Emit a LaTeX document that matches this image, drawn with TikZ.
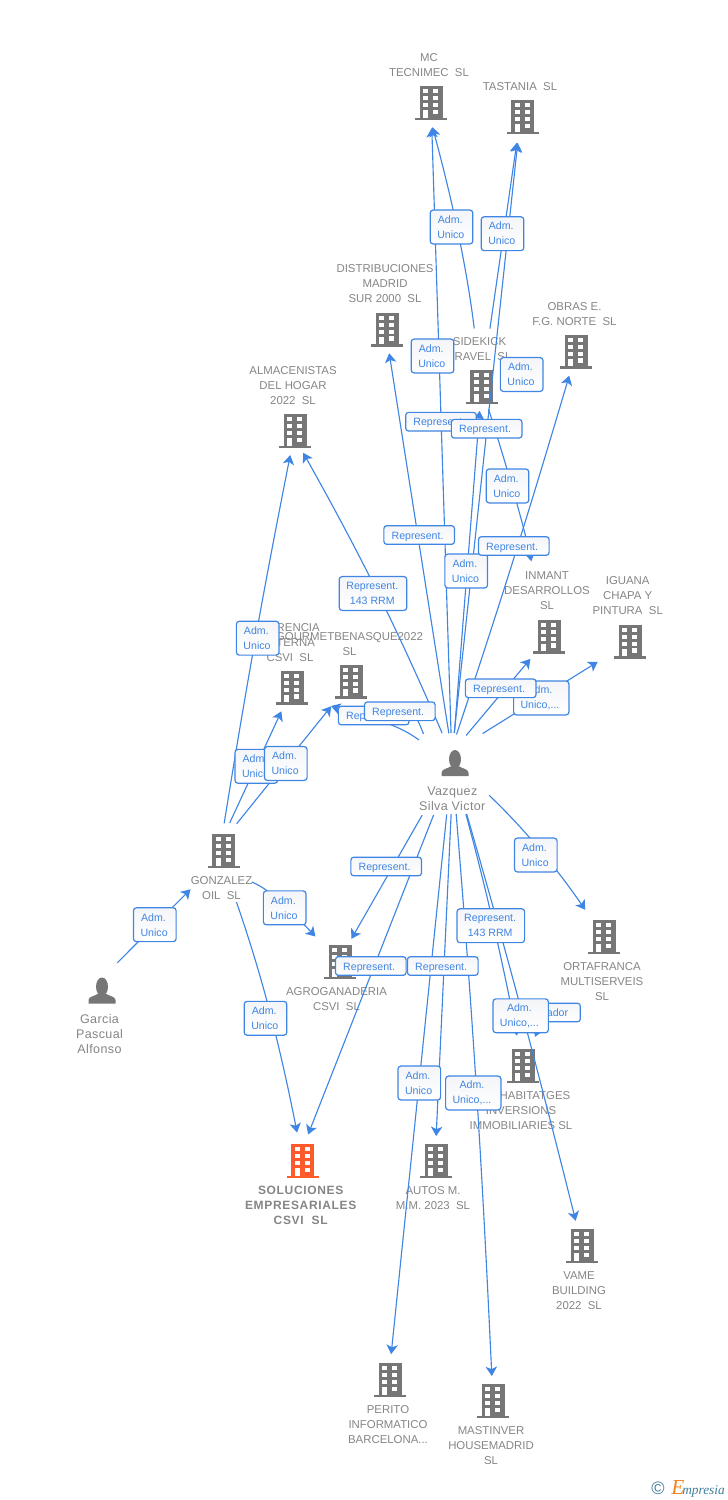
\documentclass[tikz,border=0pt]{standalone}
\usepackage{fontspec}
\setmainfont{Liberation Sans}
\newfontfamily\wmfont{Liberation Serif}
\usetikzlibrary{arrows.meta}
\definecolor{ico}{HTML}{767676}
\definecolor{mainico}{HTML}{FF5A2B}
\definecolor{labgray}{HTML}{858585}
\definecolor{lnkc}{HTML}{3F85E3}
\definecolor{boxtop}{HTML}{F4F5F8}
\definecolor{wmteal}{HTML}{3F7D9C}
\definecolor{wmorange}{HTML}{F58220}
\newcommand{\dn}[1]{\raisebox{-1.1pt}[\height][\depth]{#1}}
\newcommand{\tAU}{Adm.\kern2pt\\Unico\kern1pt}
\newcommand{\tAE}{Adm.\kern2pt\\Unico,...\kern2pt}
\newcommand{\tRE}{\dn{Represent.}\kern2.5pt}
\newcommand{\tRM}{Represent.\kern1pt\\143 RRM\kern1pt}
\tikzset{
  x=0.75pt,y=-0.75pt,
  pics/bld/.style={code={
    \fill[#1] (-11.5,-17) rectangle (11.5,14.5);
    \fill[#1] (-16,14.5) rectangle (16,17);
    \fill[white] (-8,-14) rectangle (-3,-10);
    \fill[white] (2,-14) rectangle (7,-10);
    \fill[white] (-8,-7) rectangle (-3,-3);
    \fill[white] (2,-7) rectangle (7,-3);
    \fill[white] (-8,0) rectangle (-3,4);
    \fill[white] (2,0) rectangle (7,4);
    \fill[white] (-8,7) rectangle (-3,14.5);
    \fill[white] (2,6.5) rectangle (7,11);
  }},
  pics/bld/.default=ico,
  pics/man/.style={code={
    \fill[ico] (0,-3.8) ellipse (6 and 9.2);
    \fill[ico] (-13.5,13) -- (-13.5,9.5) .. controls (-13.5,6) and (-7,5.5) .. (-3.5,3)
      -- (3.5,3) .. controls (7,5.5) and (13.5,6) .. (13.5,9.5) -- (13.5,13) -- cycle;
  }},
  hub/.style={circle,minimum size=18pt,inner sep=0pt},
  lab/.style={font=\fontsize{8.55}{11.25}\selectfont,text=labgray,align=center,inner sep=0pt,yshift=-0.7pt},
  perlab/.style={font=\fontsize{9.4}{11.25}\selectfont\addfontfeature{LetterSpace=3},text=labgray,align=center,inner sep=0pt,yshift=-0.7pt},
  mainlab/.style={font=\fontsize{9}{11.25}\selectfont\bfseries\addfontfeature{LetterSpace=5.5},text=labgray,align=center,inner sep=0pt},
  lnk/.style={draw=lnkc,line width=0.85pt,-{Stealth[length=7pt,width=8.5pt,inset=1.8pt]}},
  plain/.style={draw=lnkc,line width=0.85pt},
  sa/.style={shorten <=#1*0.75pt},
  sb/.style={shorten >=#1*0.75pt},
  tag/.style={draw=lnkc,line width=0.9pt,rounded corners=2.2pt,top color=boxtop,bottom color=white,
    text=lnkc,inner sep=0pt,align=center,font=\fontsize{7.95}{11.25}\selectfont},
  trep/.style={tag,minimum width=53pt,minimum height=14pt},
  tau/.style={tag,minimum width=32pt,minimum height=25.4pt},
  tae/.style={tag,minimum width=41.5pt,minimum height=25.4pt},
  trm/.style={tag,minimum width=50.7pt,minimum height=25.4pt},
}
\begin{document}
\begin{tikzpicture}
\useasboundingbox (0,0) rectangle (728,1500);
% --- entity anchors
\node[hub] (vz) at (455,763) {};
\node[hub] (ga) at (102,990.5) {};
\node[hub] (mc) at (431,103) {};
\node[hub] (ta) at (522.5,117) {};
\node[hub] (di) at (387,329.5) {};
\node[hub] (si) at (481.5,387) {};
\node[hub] (ob) at (576.3,351.7) {};
\node[hub] (al) at (295,431) {};
\node[hub] (nm) at (549,636.7) {};
\node[hub] (ig) at (630,641.7) {};
\node[hub] (gu) at (351,681.7) {};
\node[hub] (ge) at (292.3,687.7) {};
\node[hub] (go) at (223.7,851) {};
\node[hub] (ag) at (340,962.3) {};
\node[hub] (so) at (302.7,1161) {};
\node[hub] (au) at (436,1161) {};
\node[hub] (ha) at (523,1066) {};
\node[hub] (or) at (604,937) {};
\node[hub] (va) at (582,1246) {};
\node[hub] (pe) at (390,1380) {};
\node[hub] (ms) at (493,1401) {};
% --- icons
\pic at (vz.center) {man};
\pic at (ga.center) {man};
\foreach \n in {mc,ta,di,si,ob,al,nm,ig,gu,ge,go,ag,au,ha,or,va,pe,ms} {\pic at (\n.center) {bld};}
\pic at (so.center) {bld=mainico};
% --- captions
\node[lab] (mct) at (429,64.5) {MC\\TECNIMEC\ \ SL};
\node[lab] (tat) at (520,86) {TASTANIA\ \ SL};
\node[lab] (dit) at (385,283) {DISTRIBUCIONES\\MADRID\\SUR 2000\ \ SL};
\node[lab] (sit) at (479.5,348.5) {SIDEKICK\\TRAVEL\ \ SL};
\node[lab] (obt) at (574.5,313.5) {OBRAS E.\\F.G. NORTE\ \ SL};
\node[lab] (alt) at (293,385) {ALMACENISTAS\\DEL HOGAR\\2022\ \ SL};
\node[lab] (nmt) at (547,590) {INMANT\\DESARROLLOS\\SL};
\node[lab] (igt) at (627.7,595) {IGUANA\\CHAPA Y\\PINTURA\ \ SL};
\node[lab] (get) at (290,642) {GERENCIA\\INTERNA\\CSVI\ \ SL};
\node[lab] (gut) at (349.5,643.5) {GOURMETBENASQUE2022\\SL};
\node[lab] (got) at (221.5,887.5) {GONZALEZ\\OIL\ \ SL};
\node[lab] (agt) at (336.5,998.5) {AGROGANADERIA\\CSVI\ \ SL};
\node[mainlab] (sot) at (300.7,1205) {SOLUCIONES\\EMPRESARIALES\\CSVI\ \ SL};
\node[lab] (aut) at (433,1197.5) {AUTOS M.\\M.M. 2023\ \ SL};
\node[lab] (hat) at (521,1110) {\hspace*{21pt}HABITATGES\\INVERSIONS\\IMMOBILIARIES SL};
\node[lab] (ort) at (602,981) {ORTAFRANCA\\MULTISERVEIS\\SL};
\node[lab] (vat) at (579,1290) {VAME\\BUILDING\\2022\ \ SL};
\node[lab] (pet) at (388,1424) {PERITO\\INFORMATICO\\BARCELONA...};
\node[lab] (mst) at (491,1445) {MASTINVER\\HOUSEMADRID\\SL};
\node[perlab] (vzt) at (452.3,798) {Vazquez\\Silva Victor};
\node[perlab] (gat) at (99.5,1033) {Garcia\\Pascual\\Alfonso};
% --- free ends
\coordinate (gw) at (331,706);
\coordinate (vw) at (419,740);
\coordinate (vx) at (423.5,734);
% --- connectors
\draw[lnk,sa=30,sb=25] ([shift={(-3,0)}]vz.center) -- (mc.center);
\draw[lnk,sa=59,sb=25] (si.center) to[bend right=4] ([shift={(-5,0)}]mc.center);
\draw[lnk,sa=30,sb=26] ([shift={(-4,0)}]vz.center) -- ([shift={(-2,0)}]ta.center);
\draw[lnk,sa=59,sb=26] (si.center) -- ([shift={(-2,0)}]ta.center);
\draw[lnk,sa=30,sb=24] ([shift={(-1.5,0)}]vz.center) -- ([shift={(-1.5,0)}]di.center);
\draw[lnk,sa=30,sb=24] ([shift={(-3,0)}]vz.center) -- (si.center);
\draw[lnk,sa=30,sb=25] ([shift={(-8,0)}]vz.center) to[bend right=1] (ob.center);
\draw[lnk,sa=23,sb=77] (si.center) to[bend left=3] ([shift={(-2,0)}]nm.center);
\draw[lnk,sa=36,sb=29] ([shift={(-12,0)}]vz.center) -- (nm.center);
\draw[lnk,sa=32.5,sb=38] (vz.north) -- (ig.center);
\draw[lnk,sa=32.4,sb=25] (vz.center) to[bend right=3] ([shift={(-4,0)}]al.center);
\draw[lnk] (vw) .. controls (395,722) and (365,717) .. (gw);
\draw[lnk,sa=28,sb=24.5] ([shift={(-4,0)}]go.center) to[bend left=1] (al.center);
\draw[lnk,sa=31,sb=26] ([shift={(-7,0)}]go.center) -- (ge.center);
\draw[lnk,sa=35,sb=31.6] ([shift={(-9,0)}]go.center) -- (gu.center);
\draw[lnk,sb=35.6] ([shift={(28,31)}]go.center) .. controls (272,890) and (295,915) .. (ag.center);
\draw[lnk,sa=54,sb=29] ([shift={(-5,0)}]go.center) to[bend left=4] (so.center);
\draw[lnk,sa=31,sb=47] ([shift={(2,3)}]ga.135) -- ([shift={(0,5)}]go.center);
\draw[lnk,sa=55.7,sb=28.5] ([shift={(-1,0)}]vz.center) -- ([shift={(-5,0)}]so.center);
\draw[lnk,sa=60,sb=27] ([shift={(-3,0)}]vz.center) -- ([shift={(-2,0)}]ag.center);
\draw[lnk,sa=51.6,sb=26] ([shift={(-3,0)}]vz.center) -- ([shift={(-1.5,0)}]pe.center);
\draw[lnk,sa=51,sb=25] ([shift={(-1.5,0)}]vz.center) -- ([shift={(-1,0)}]au.center);
\draw[lnk,sa=51,sb=25] ([shift={(-3,0)}]vz.center) to[bend left=1] (ms.center);
\draw[lnk,sa=53,sb=31] ([shift={(-3,0)}]vz.center) to[bend left=2] (ha.center);
\draw[lnk,sa=53,sb=26] ([shift={(-3,0)}]vz.center) to[bend left=1] (va.center);
\draw[lnk,sa=47,sb=33] (vz.center) to[bend left=6] (or.center);
% --- tags
\node[tau] (t1) at (451.5,227) {\tAU};
\node[tau] (t2) at (502.5,233.7) {\tAU};
\node[tau] (t3) at (432.5,356) {\tAU};
\node[tau] (t4) at (521.7,374.5) {\tAU};
\node[trep] (t5) at (441,421.7) {\tRE};
\node[trep] (t6) at (486.7,428.7) {\tRE};
\node[tau] (t7) at (507.5,486) {\tAU};
\node[trep] (t8) at (419.2,535) {\tRE};
\node[tau] (t9) at (466.2,571) {\tAU};
\node[trep] (t10) at (513.8,546) {\tRE};
\node[trm] (t11) at (373,593.5) {\tRM};
\node[tae] (t12) at (541.3,698) {\tAE};
\node[trep] (t13) at (500.7,688.3) {\tRE};
\node[trep] (t14) at (373.7,715.5) {\tRE};
\draw[plain] (vx) to[bend right=5] (t14.north east);
\node[trep] (t15) at (399.8,711.3) {\tRE};
\node[tau] (t16) at (257.7,638.2) {\tAU};
\node[tau] (t17) at (256.3,766.3) {\tAU};
\node[tau] (t18) at (285.8,763.5) {\tAU};
\node[trep] (t19) at (386.2,866.5) {\tRE};
\node[tau] (t20) at (535.8,855) {\tAU};
\node[tau] (t21) at (284.7,907.8) {\tAU};
\node[tau] (t22) at (265.5,1018.3) {\tAU};
\node[tau] (t23) at (154.8,924.7) {\tAU};
\node[trm] (t24) at (490.8,925.7) {\tRM};
\node[trep] (t25) at (370.8,966) {\tRE};
\node[trep] (t26) at (442.8,966) {\tRE};
\node[trep] (t27) at (545,1012.5) {\dn{Liquidador}\kern2.5pt};
\draw[lnk,sb=31.5] (t27.center) -- (ha.center);
\node[tae] (t28) at (520.7,1015.8) {\tAE};
\node[tau] (t29) at (419.3,1083) {\tAU};
\node[tae] (t30) at (473.3,1093) {\tAE};
% --- watermark
\node[inner sep=0pt,text=wmteal,font=\fontsize{13.5}{14}\selectfont] (wm1) at (658,1488) {©};
\node[inner sep=0pt,text=wmorange,font=\wmfont\itshape\fontsize{16}{16}\selectfont,anchor=base west] (wm2) at (671,1494) {E};
\node[inner sep=0pt,text=wmteal,font=\wmfont\itshape\fontsize{10}{12}\selectfont,anchor=base west] (wm3) at (682,1494) {mpresia};
\end{tikzpicture}
\end{document}
